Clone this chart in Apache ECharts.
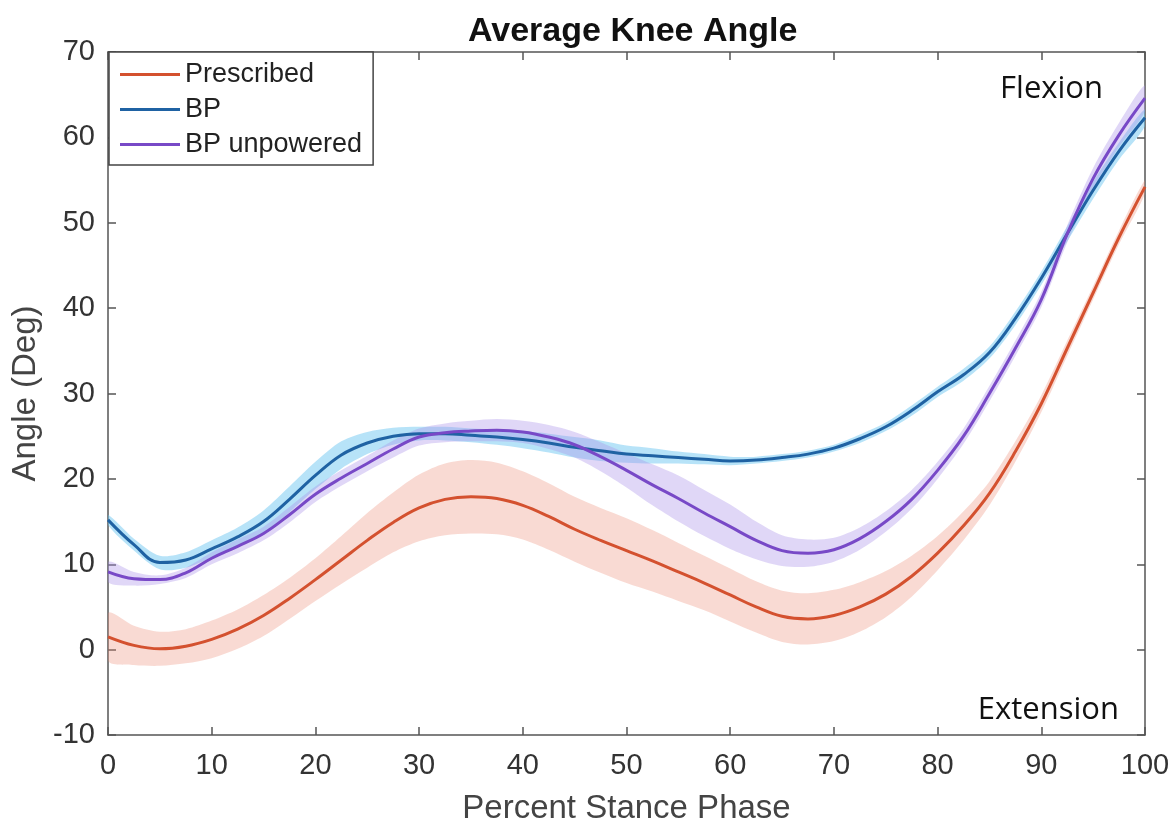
<!DOCTYPE html>
<html>
<head>
<meta charset="utf-8">
<script src="https://cdn.jsdelivr.net/npm/echarts@6/dist/echarts.min.js"></script>
<style>
  html, body { margin: 0; padding: 0; background: #fff; }
  #main { width: 1173px; height: 825px; }
</style>
</head>
<body>
<div id="main"></div>
<script>
// percent stance phase
const xs = [0, 2.5, 5, 7.5, 10, 12.5, 15, 17.5, 20, 22.5, 25, 27.5, 30, 32.5, 35, 37.5, 40, 42.5, 45, 47.5,
  50, 52.5, 55, 57.5, 60, 62.5, 65, 67.5, 70, 72.5, 75, 77.5, 80, 82.5, 85, 87.5, 90, 92.5, 95, 97.5, 100]
// Prescribed
const prescribedMean = [1.5, 0.5, 0.1, 0.4, 1.2, 2.4, 4.0, 6.0, 8.2, 10.5, 12.8, 14.9, 16.6, 17.6, 17.9, 17.7, 16.9, 15.6, 14.1, 12.8,
  11.6, 10.4, 9.1, 7.8, 6.4, 5.0, 3.9, 3.6, 4.0, 5.0, 6.5, 8.6, 11.3, 14.5, 18.3, 23.2, 28.8, 35.3, 41.8, 48.3, 54.2]
const prescribedSd = [2.8, 2.3, 2.0, 2.0, 2.2, 2.3, 2.4, 2.4, 2.5, 2.8, 3.2, 3.5, 3.9, 4.2, 4.3, 4.2, 4.0, 3.9, 3.8, 3.8,
  3.8, 3.6, 3.4, 3.2, 3.1, 3.0, 3.0, 3.0, 3.0, 2.9, 2.7, 2.4, 2.0, 1.7, 1.4, 1.2, 1.0, 0.9, 0.8, 0.8, 0.8]
// BP
const bpMean = [15.2, 12.3, 10.2, 10.5, 11.8, 13.2, 15.0, 17.6, 20.4, 22.8, 24.2, 25.0, 25.3, 25.3, 25.1, 24.9, 24.6, 24.2, 23.7, 23.3,
  22.9, 22.7, 22.5, 22.3, 22.1, 22.2, 22.5, 22.9, 23.6, 24.7, 26.1, 28.0, 30.2, 32.2, 34.8, 38.8, 43.5, 48.7, 53.8, 58.4, 62.3]
const bpSd = [0.6, 0.7, 0.8, 0.9, 1.0, 1.1, 1.3, 1.5, 1.6, 1.6, 1.3, 1.0, 0.8, 0.8, 0.8, 0.9, 1.0, 1.1, 1.2, 1.2,
  1.0, 0.9, 0.7, 0.6, 0.5, 0.4, 0.4, 0.4, 0.4, 0.5, 0.5, 0.6, 0.6, 0.7, 0.7, 0.8, 0.8, 0.9, 1.0, 1.0, 1.0]
// BP unpowered
const unpMean = [9.1, 8.3, 8.2, 9.0, 10.7, 12.1, 13.6, 15.8, 18.2, 20.1, 21.8, 23.5, 24.9, 25.4, 25.6, 25.7, 25.5, 24.9, 24.0, 22.6,
  21.0, 19.3, 17.7, 16.0, 14.4, 12.8, 11.6, 11.3, 11.7, 13.0, 15.0, 17.6, 21.0, 25.0, 30.0, 35.3, 41.0, 48.7, 55.2, 60.3, 64.6]
const unpSd = [1.2, 0.8, 0.5, 0.6, 0.7, 0.8, 0.8, 0.9, 0.9, 0.9, 0.9, 1.0, 1.0, 1.1, 1.2, 1.3, 1.3, 1.4, 1.5, 1.7,
  2.0, 2.4, 2.7, 2.7, 2.6, 2.2, 1.8, 1.6, 1.4, 1.3, 1.2, 1.1, 1.0, 0.9, 0.9, 0.9, 0.9, 1.0, 1.2, 1.4, 1.5]

const groups = [
  {name: 'Prescribed', mean: prescribedMean, sd: prescribedSd, line: '#d4512f', band: 'rgba(236,140,118,0.32)'},
  {name: 'BP', mean: bpMean, sd: bpSd, line: '#1f62a3', band: 'rgba(95,192,240,0.45)'},
  {name: 'BP unpowered', mean: unpMean, sd: unpSd, line: '#7849c7', band: 'rgba(170,145,232,0.36)'}
]

const font = 'Liberation Sans, Arial, sans-serif'
let series = []
// 阴影带（均值 ± 标准差）
groups.forEach(g => {
  series.push({
    type: 'custom',
    silent: true,
    z: 1,
    clip: true,
    data: [[0, 0]],
    renderItem: (params, api) => {
      const upper = xs.map((x, i) => api.coord([x, g.mean[i] + g.sd[i]]))
      const lower = xs.map((x, i) => api.coord([x, g.mean[i] - g.sd[i]])).reverse()
      return {
        type: 'polygon',
        shape: {points: upper.concat(lower), smooth: 0.3},
        style: {fill: g.band, stroke: null}
      }
    }
  })
})
// 均值曲线
groups.forEach(g => {
  series.push({
    name: g.name,
    type: 'line',
    smooth: 0.4,
    symbol: 'none',
    z: 5,
    color: g.line,
    lineStyle: {color: g.line, width: 3},
    data: xs.map((x, i) => [x, g.mean[i]])
  })
})

const axisLine = {show: true, onZero: false, lineStyle: {color: '#555', width: 1.5}}
const axisTick = {show: true, inside: true, length: 8, lineStyle: {color: '#555', width: 1.5}}

let option = {
  animation: false,
  backgroundColor: '#fff',
  title: {
    text: 'Average Knee Angle',
    left: 463,
    top: 10,
    textStyle: {fontFamily: font, fontSize: 34, fontWeight: 'bold', color: '#111'}
  },
  legend: {
    data: groups.map(g => g.name),
    orient: 'vertical',
    left: 109,
    top: 52,
    padding: [9, 11, 7, 11],
    itemGap: 8,
    itemWidth: 60,
    itemHeight: 3,
    icon: 'rect',
    backgroundColor: '#fff',
    borderColor: '#444',
    borderWidth: 1.5,
    borderRadius: 0,
    textStyle: {fontFamily: font, fontSize: 27, lineHeight: 27, color: '#222'}
  },
  grid: {left: 108, right: 28, top: 52, bottom: 90, outerBoundsMode: 'none'},
  xAxis: [
    {
      type: 'value', min: 0, max: 100, interval: 10,
      name: 'Percent Stance Phase', nameLocation: 'middle', nameGap: 57,
      nameTextStyle: {fontFamily: font, fontSize: 33, color: '#444'},
      axisLine: axisLine, axisTick: axisTick, splitLine: {show: false},
      axisLabel: {fontFamily: font, fontSize: 29, color: '#333', margin: 16}
    },
    {
      type: 'value', min: 0, max: 100, interval: 10, position: 'top',
      axisLine: axisLine, axisTick: axisTick, splitLine: {show: false},
      axisLabel: {show: false}
    }
  ],
  yAxis: [
    {
      type: 'value', min: -10, max: 70, interval: 10,
      name: 'Angle (Deg)', nameLocation: 'middle', nameGap: 61,
      nameTextStyle: {fontFamily: font, fontSize: 33, color: '#444'},
      axisLine: axisLine, axisTick: axisTick, splitLine: {show: false},
      axisLabel: {fontFamily: font, fontSize: 29, color: '#333', margin: 13}
    },
    {
      type: 'value', min: -10, max: 70, interval: 10, position: 'right',
      axisLine: axisLine, axisTick: axisTick, splitLine: {show: false},
      axisLabel: {show: false}
    }
  ],
  graphic: [
    {type: 'text', right: 70, top: 74, style: {text: 'Flexion', font: '31px "Open Sans", sans-serif', fill: '#111'}},
    {type: 'text', right: 54, top: 695, style: {text: 'Extension', font: '31px "Open Sans", sans-serif', fill: '#111'}}
  ],
  series: series
}

let myChart = echarts.init(document.getElementById('main'))
myChart.setOption(option)
</script>
</body>
</html>
